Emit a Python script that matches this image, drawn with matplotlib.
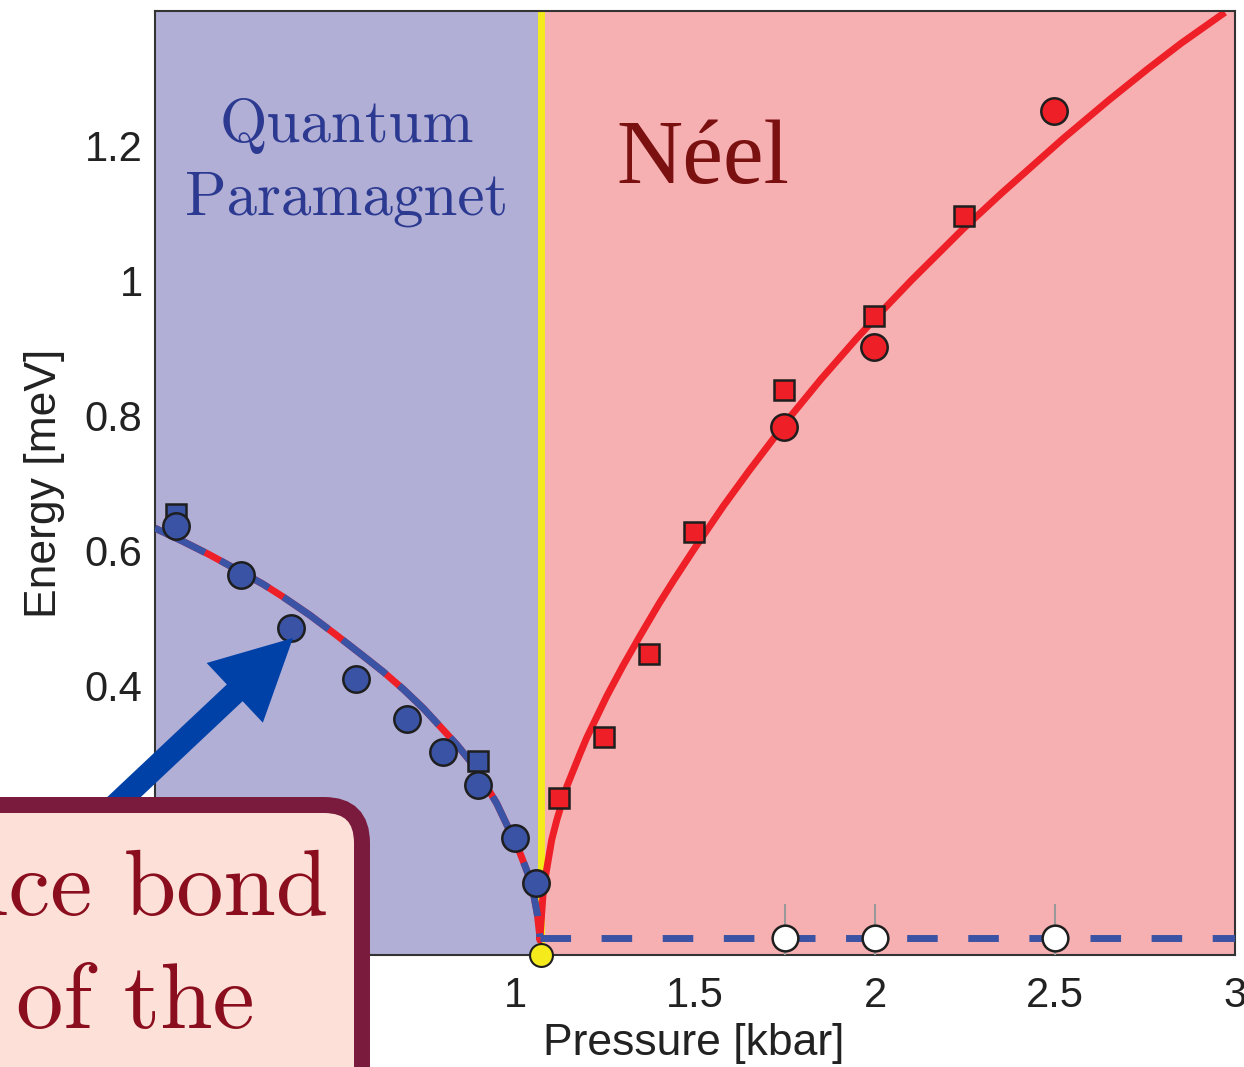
import numpy as np
import matplotlib
matplotlib.use('Agg')
import matplotlib.pyplot as plt
from matplotlib.patches import FancyBboxPatch, FancyArrow

plt.rcParams['font.family'] = 'Liberation Sans'

# critical pressure (kbar)
p_c = 1.072

# measured gaps: quantum paramagnet side
blue_circ_x = [0.058, 0.239, 0.378, 0.558, 0.699, 0.800, 0.898, 1.000, 1.058]
blue_circ_y = [0.636, 0.564, 0.485, 0.409, 0.350, 0.301, 0.252, 0.173, 0.106]
blue_sq_x = [0.058, 0.898]
blue_sq_y = [0.654, 0.287]

# measured gaps: Neel side
red_sq_x = [1.123, 1.248, 1.373, 1.498, 1.747, 1.998, 2.248]
red_sq_y = [0.233, 0.324, 0.447, 0.627, 0.838, 0.948, 1.096]
red_circ_x = [1.747, 1.998, 2.497]
red_circ_y = [0.783, 0.901, 1.251]

# gapless mode (open circles) with error bars
white_x = [1.75, 2.0, 2.5]
white_y = [0.025, 0.025, 0.025]
white_err = [0.05, 0.05, 0.05]

# theory curves
left_x = [0.0, 0.079, 0.15, 0.236, 0.3, 0.356, 0.43, 0.5, 0.57, 0.634, 0.69, 0.745, 0.79,
          0.838, 0.884, 0.949, 0.98, 1.014, 1.035, 1.051, 1.062, 1.069]
left_y = [0.633, 0.613, 0.594, 0.569, 0.550, 0.531, 0.504, 0.476, 0.447, 0.420, 0.394, 0.366,
          0.340, 0.312, 0.282, 0.225, 0.190, 0.151, 0.122, 0.092, 0.060, 0.027]
right_x = [1.069, 1.079, 1.102, 1.116, 1.144, 1.181, 1.199, 1.255, 1.3, 1.347, 1.4, 1.440,
           1.495, 1.579, 1.65, 1.764, 1.85, 1.95, 2.014, 2.1, 2.245, 2.35, 2.523, 2.65,
           2.755, 2.85, 2.972]
right_y = [0.022, 0.099, 0.171, 0.200, 0.250, 0.299, 0.322, 0.384, 0.429, 0.473, 0.521, 0.555,
           0.600, 0.666, 0.718, 0.798, 0.854, 0.915, 0.952, 1.000, 1.077, 1.129, 1.211, 1.268,
           1.313, 1.352, 1.398]
flat_x = [1.069, 3.0]
flat_y = [0.025, 0.025]

xticks = [1, 1.5, 2, 2.5, 3]
xticklabels = ['1', '1.5', '2', '2.5', '3']
yticks = [0.4, 0.6, 0.8, 1.0, 1.2]
yticklabels = ['0.4', '0.6', '0.8', '1', '1.2']

blue = '#3A53A4'
red = '#EE1F26'
edge = '#1E1E1E'

fig = plt.figure(figsize=(12.44, 10.67), dpi=100)
ax = fig.add_axes([0.1246, 0.1050, 0.8682, 0.8847])

ax.axvspan(0, p_c, color='#B1AFD6', zorder=0, lw=0)
ax.axvspan(p_c, 3, color='#F6B0B2', zorder=0, lw=0)
ax.axvline(p_c, color='#F4EA1C', lw=5, zorder=1)

# curves
ax.plot(left_x + right_x, left_y + right_y, color=red, lw=5, zorder=2, solid_capstyle='butt')
ax.plot(left_x, left_y, color=blue, lw=5, dashes=(8, 2.5), zorder=3)
ax.plot(flat_x, flat_y, color=blue, lw=5, dashes=(4.4, 4.4), zorder=3)

# data
ax.errorbar(white_x, white_y, yerr=white_err, fmt='none', ecolor='#999999', elinewidth=1.5, zorder=4)
ax.plot(white_x, white_y, 'o', ms=18.5, mfc='white', mec=edge, mew=1.8, zorder=5)
ax.plot(blue_sq_x, blue_sq_y, 's', ms=15, mfc=blue, mec=edge, mew=1.8, zorder=5)
ax.plot(blue_circ_x, blue_circ_y, 'o', ms=19, mfc=blue, mec=edge, mew=1.8, zorder=6)
ax.plot(red_sq_x, red_sq_y, 's', ms=15, mfc=red, mec=edge, mew=1.8, zorder=5)
ax.plot(red_circ_x, red_circ_y, 'o', ms=19, mfc=red, mec=edge, mew=1.8, zorder=6)
ax.plot([p_c], [0], 'o', ms=16.5, mfc='#F4EA1C', mec=edge, mew=1.5, zorder=7, clip_on=False)

# phase labels
ax.text(0.533, 1.206, 'Quantum', family='cmr10', fontsize=44, color='#2B3990',
        ha='center', va='baseline', zorder=8)
ax.text(0.533, 1.098, 'Paramagnet', family='cmr10', fontsize=44, color='#2B3990',
        ha='center', va='baseline', zorder=8)
ax.text(1.522, 1.145, 'Néel', family='Liberation Serif', fontsize=66, color='#7A1010',
        ha='center', va='baseline', zorder=8)

ax.set_xlim(0, 3)
ax.set_ylim(0, 1.4)
ax.set_xticks(xticks)
ax.set_xticklabels(xticklabels)
ax.set_yticks(yticks)
ax.set_yticklabels(yticklabels)
ax.tick_params(axis='both', length=0, labelsize=30, colors='#222222')
ax.tick_params(axis='x', pad=15)
ax.tick_params(axis='y', pad=9)
for s in ax.spines.values():
    s.set_color('#333333')
    s.set_linewidth(1.5)
ax.set_xlabel('Pressure [kbar]', fontsize=32, color='#222222')
ax.set_ylabel('Energy [meV]', fontsize=32, color='#222222')
ax.xaxis.set_label_coords(0.499, -0.072)
ax.yaxis.set_label_coords(-0.083, 0.5)

# arrow and callout box (figure inches)
arrow = FancyArrow(0.55, 2.05, 2.38, 2.24, width=0.23, head_width=0.82, head_length=0.8,
                   length_includes_head=True, color='#0041A8', lw=0,
                   transform=fig.dpi_scale_trans, zorder=5)
fig.add_artist(arrow)
box = FancyBboxPatch((-1.0, -1.0), 4.62, 3.62, boxstyle='round,pad=0,rounding_size=0.38',
                     fc='#FDE0D8', ec='#7A1A3C', lw=11.5,
                     transform=fig.dpi_scale_trans, zorder=6)
fig.add_artist(box)
fig.text(3.28, 1.52, 'Valence bond', family='cmr10', fontsize=68, color='#8B0E1E',
         ha='right', va='baseline', transform=fig.dpi_scale_trans, zorder=7)
fig.text(2.55, 0.39, 'crystal of the', family='cmr10', fontsize=68, color='#8B0E1E',
         ha='right', va='baseline', transform=fig.dpi_scale_trans, zorder=7)

fig.savefig('out.png', dpi=100)
